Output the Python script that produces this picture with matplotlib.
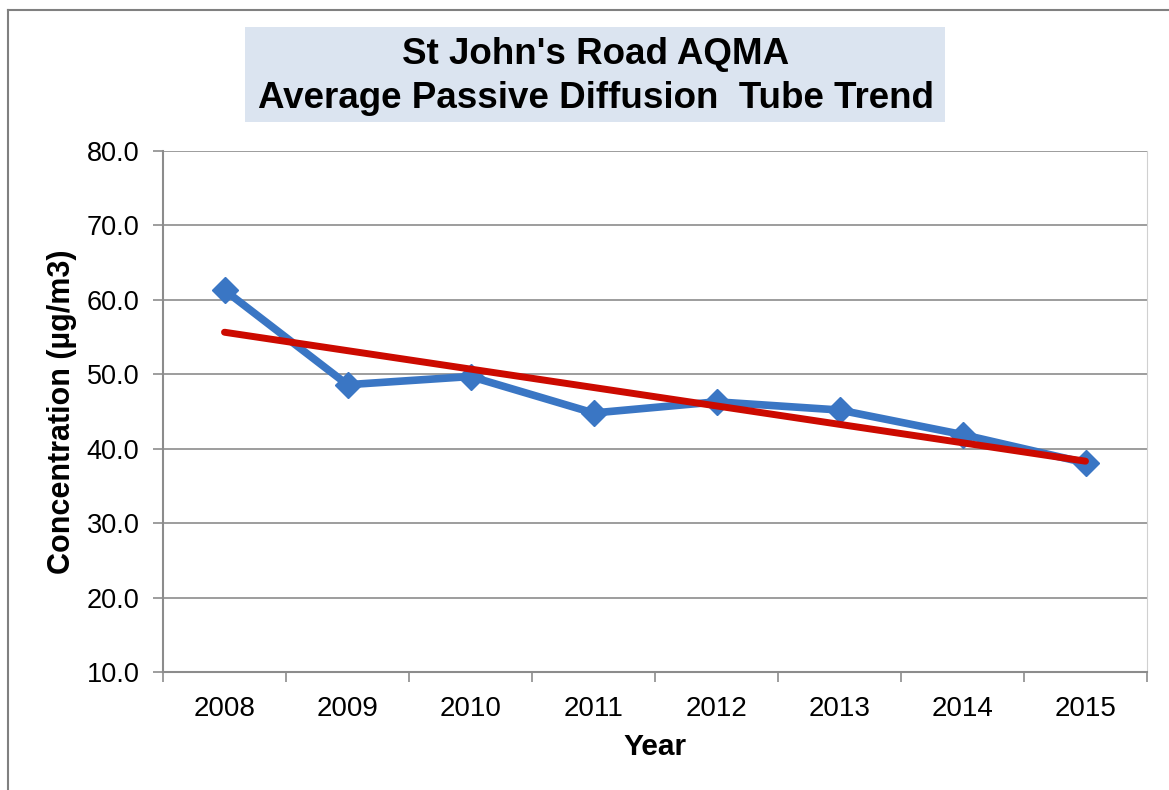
import numpy as np
import matplotlib.pyplot as plt
from matplotlib.patches import Rectangle
from matplotlib.lines import Line2D

plt.rcParams['font.family'] = ['Liberation Sans', 'DejaVu Sans']

# annual mean NO2 from diffusion tubes
years = ['2008', '2009', '2010', '2011', '2012', '2013', '2014', '2015']
conc = [61.3, 48.6, 49.7, 44.8, 46.3, 45.2, 41.9, 38.1]
y_ticks = [10, 20, 30, 40, 50, 60, 70, 80]

x = np.arange(len(years))
slope, intercept = np.polyfit(x, conc, 1)
trend = slope * x + intercept

fig = plt.figure(figsize=(11.69, 7.9), dpi=100)
fig.patch.set_facecolor('white')

# outer chart frame
fig.add_artist(Line2D([0.007, 0.007], [0.0, 0.987], color='#808080', lw=1.5))
fig.add_artist(Line2D([0.007, 1.0], [0.987, 0.987], color='#808080', lw=1.5))

# title box
fig.add_artist(Rectangle((245 / 1169, 1 - 122 / 790), 700 / 1169, 95 / 790,
                         facecolor='#dbe4f0', edgecolor='none'))
fig.text(596 / 1169, 1 - 54 / 790, "St John's Road AQMA", ha='center', va='center',
         fontsize=26.5, fontweight='bold')
fig.text(596 / 1169, 1 - 98 / 790, "Average Passive Diffusion  Tube Trend", ha='center',
         va='center', fontsize=26.5, fontweight='bold')

ax = fig.add_axes([163 / 1169, 1 - 672 / 790, 984 / 1169, 521 / 790])
ax.set_xlim(-0.5, len(years) - 0.5)
ax.set_ylim(10, 80)

ax.plot(x, conc, color='#3a76c4', lw=5.5, marker='D', markersize=13, zorder=3)
ax.plot(x, trend, color='#cc0a00', lw=5, solid_capstyle='round', zorder=4)

ax.set_yticks(y_ticks)
ax.set_yticklabels([f'{v:.1f}' for v in y_ticks])
ax.yaxis.grid(True, color='#8c8c8c', lw=1.2)
ax.set_axisbelow(True)

ax.set_xticks(x)
ax.set_xticklabels(years)
ax.set_xticks(np.arange(-0.5, len(years)), minor=True)
ax.tick_params(axis='x', which='major', length=0, pad=17, labelsize=20)
ax.tick_params(axis='x', which='minor', length=7, color='#8c8c8c', width=1.2)
ax.tick_params(axis='y', length=7, color='#8c8c8c', width=1.2, pad=10, labelsize=19.5)

for side in ['left', 'bottom']:
    ax.spines[side].set_color('#8c8c8c')
    ax.spines[side].set_linewidth(1.5)
ax.spines['top'].set_visible(False)
ax.spines['right'].set_color('#d0d0d0')

ax.set_xlabel('Year', fontsize=21.5, fontweight='bold', labelpad=8)
ax.set_ylabel('Concentration (\u00b5g/m3)', fontsize=22, fontweight='bold', labelpad=7)

fig.savefig('out.png', dpi=100)
